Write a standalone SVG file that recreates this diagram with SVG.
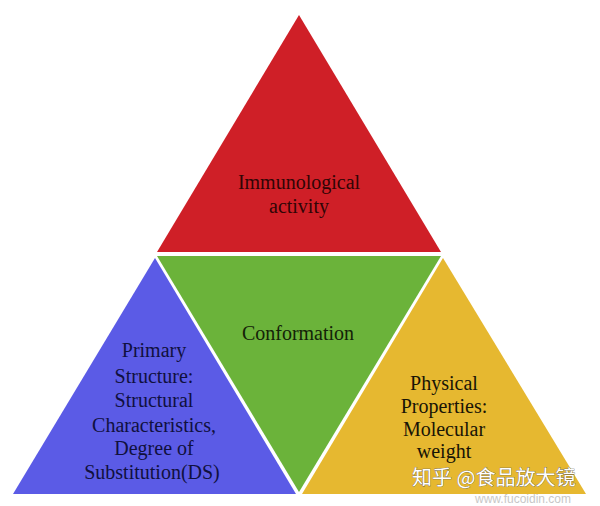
<svg xmlns="http://www.w3.org/2000/svg" width="600" height="506" viewBox="0 0 600 506">
<style>
.t{font-family:"Liberation Serif","Times New Roman",serif;font-size:20px;text-anchor:middle}
.r{fill:#300505}.g{fill:#142208}.b{fill:#10103e}.y{fill:#181406}
.wm{font-family:"Noto Sans CJK SC","Noto Sans",sans-serif;font-size:20px;fill:#ffffff;stroke:#555;stroke-width:0.6;paint-order:stroke}
.wm2{font-family:"Liberation Sans",Arial,sans-serif;font-size:12px;fill:#b0b0b0;opacity:0.7}
</style>
<rect width="600" height="506" fill="#ffffff"/>
<g id="immunological">
<polygon points="299,15 157,252 441,252" fill="#CF1F27"/>
<text class="t r" x="299" y="189">Immunological</text>
<text class="t r" x="299" y="213">activity</text>
</g>
<g id="conformation">
<polygon points="157,256 441,256 299,492" fill="#6BB33A"/>
<text class="t g" x="298" y="340">Conformation</text>
</g>
<g id="primary">
<polygon points="155,258 13,494 296,494" fill="#5B5BE6"/>
<text class="t b" x="154" y="357">Primary</text>
<text class="t b" x="154" y="383">Structure:</text>
<text class="t b" x="154" y="407">Structural</text>
<text class="t b" x="154" y="432">Characteristics,</text>
<text class="t b" x="154" y="455">Degree of</text>
<text class="t b" x="152" y="479">Substitution(DS)</text>
</g>
<g id="physical">
<polygon points="443,258 302,494 586,494" fill="#E6B830"/>
<text class="t y" x="444" y="390">Physical</text>
<text class="t y" x="444" y="413">Properties:</text>
<text class="t y" x="444" y="436">Molecular</text>
<text class="t y" x="444" y="458">weight</text>
</g>
<g id="connectors"></g>
<g id="watermark">
<text class="wm" x="412" y="485">知乎 @食品放大镜</text>
<text class="wm2" x="475" y="503">www.fucoidin.com</text>
</g>
</svg>
